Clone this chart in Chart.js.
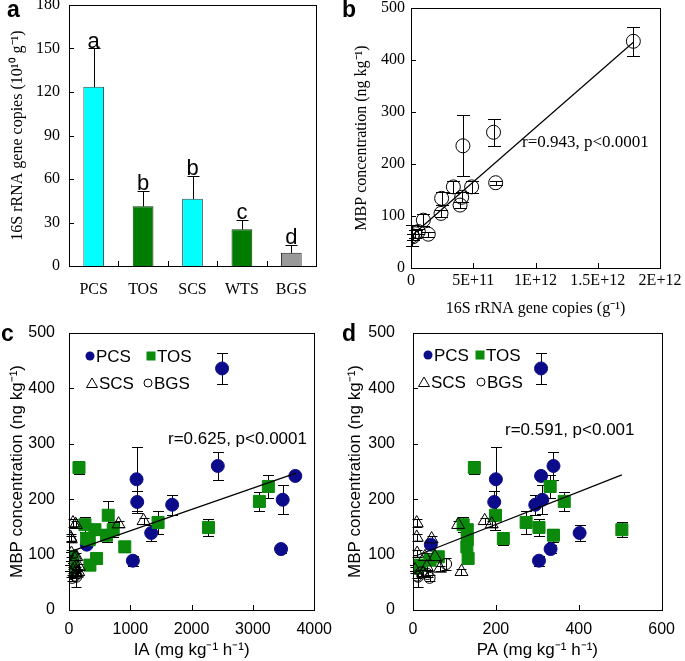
<!DOCTYPE html>
<html>
<head>
<meta charset="utf-8">
<script src="https://cdn.jsdelivr.net/npm/chart.js@4.4.0/dist/chart.umd.min.js"></script>
<style>
body { margin: 0; background: #fff; }
#wrap { position: relative; width: 685px; height: 661px; overflow: hidden; background: #fff; }
canvas { position: absolute; }
</style>
</head>
<body>
<div id="wrap">
  <canvas id="ca" width="342" height="345" style="left:0;top:-15px"></canvas>
  <canvas id="cb" width="343" height="345" style="left:342px;top:-15px"></canvas>
  <canvas id="cc" width="342" height="358" style="left:0;top:303px"></canvas>
  <canvas id="cd" width="343" height="358" style="left:342px;top:303px"></canvas>
</div>
<script>
// ---- panel a: 16S rRNA gene copies per site
const sites = ['PCS', 'TOS', 'SCS', 'WTS', 'BGS'];
const copies = [123.6, 41.2, 46.3, 25.3, 9.2];
const copiesErr = [26.4, 10.8, 16.1, 6.7, 5.1];
const groups = ['a', 'b', 'b', 'c', 'd'];

// ---- panel b: MBP vs gene copies
const geneX = [17.86e11, 6.63e11, 4.17e11, 6.80e11, 4.87e11, 3.40e11, 4.07e11, 3.94e11,
               2.46e11, 2.41e11, 0.99e11, 1.39e11, 0.59e11, 0.32e11, 0.08e11, 0.15e11];
const geneMBP = [436, 261, 235, 164, 156, 156, 136, 121, 134, 105, 92, 65, 70, 66, 62, 60];
const geneErr = [28, 26, 59, 4, 12, 11, 10, 6, 12, 7, 11, 5, 5, 8, 20, 6];
const bLineX = [0.05e11, 17.86e11];
const bLineY = [62, 434];
const bTickLabels = ['0', '5E+11', '1E+12', '1.5E+12', '2E+12'];

// ---- panels c, d: MBP vs IA / PA per site group
const pcsMBP = [436, 260, 242, 236, 195, 190, 199, 139, 110, 89, 118];
const pcsErr = [28, 26, 5, 58, 20, 18, 26, 14, 8, 9, 5];
const pcsIA = [2497, 2427, 3692, 1102, 1113, 1683, 3486, 1341, 3459, 1042, 290];
const pcsPA = [309, 339, 309, 200, 196, 295, 312, 402, 332, 304, 43];

const tosMBP = [257, 223, 196, 171, 158, 149, 135, 145, 129, 154, 145, 127, 114, 93, 96, 90, 81, 76];
const tosErr = [12, 20, 17, 26, 20, 15, 12, 13, 12, 14, 10, 10, 10, 8, 8, 6, 6, 6];
const tosIA = [163, 3252, 3106, 640, 1453, 2275, 613, 721, 288, 260, 423, 330, 910, 450, 40, 60, 341, 16];
const tosPA = [148, 331, 365, 199, 273, 304, 339, 504, 218, 121, 131, 131, 130, 133, 61, 41, 17, 5];

const scsMBP = [157, 154, 131, 128, 155, 161, 69, 102, 96, 96, 75, 78, 72, 66];
const scsErr = [8, 6, 6, 6, 6, 5, 5, 6, 6, 6, 5, 5, 5, 5];
const scsIA = [65, 110, 25, 30, 809, 1216, 150, 40, 100, 120, 90, 160, 60, 130];
const scsPA = [9, 109, 9, 45, 190, 173, 117, 10, 29, 53, 65, 33, 5, 25];

const bgsMBP = [83, 68, 65, 62, 60, 58];
const bgsErr = [10, 6, 6, 5, 18, 5];
const bgsIA = [80, 60, 30, 100, 120, 50];
const bgsPA = [80, 20, 35, 10, 12, 40];

const cLineX = [11, 3703];
const cLineY = [105, 247];
const dLineX = [8, 504];
const dLineY = [98, 244];

const SERIF = "'Liberation Serif', 'Times New Roman', serif";
const SANS = "'Liberation Sans', Arial, sans-serif";
const NAVY = '#0c0c8a';
const GREEN = '#0b8a0b';

function pts(xs, ys) { return xs.map((x, i) => ({x: x, y: ys[i]})); }

// box around the plot plus inward tick marks
const frame = {
  id: 'frame',
  afterDatasetsDraw(chart, args, opts) {
    const ctx = chart.ctx, a = chart.chartArea;
    const xs = chart.scales.x, ys = chart.scales.y;
    ctx.save();
    ctx.strokeStyle = '#000';
    ctx.lineWidth = 1;
    ctx.strokeRect(Math.round(a.left) + 0.5, Math.round(a.top) + 0.5,
                   Math.round(a.right - a.left), Math.round(a.bottom - a.top));
    ctx.beginPath();
    const xv = opts.xTicks || xs.ticks.map(t => t.value);
    xv.forEach(v => {
      const px = Math.round(xs.getPixelForValue(v)) + 0.5;
      ctx.moveTo(px, a.bottom); ctx.lineTo(px, a.bottom - 5);
    });
    ys.ticks.forEach(t => {
      const py = Math.round(ys.getPixelForValue(t.value)) + 0.5;
      ctx.moveTo(a.left, py); ctx.lineTo(a.left + 5, py);
    });
    ctx.stroke();
    ctx.restore();
  }
};

const errorBars = {
  id: 'errorBars',
  beforeDatasetsDraw(chart) {
    const ctx = chart.ctx;
    chart.data.datasets.forEach((ds, i) => {
      if (!ds.err) return;
      const meta = chart.getDatasetMeta(i);
      const ys = chart.scales[meta.yAxisID];
      ctx.save();
      ctx.strokeStyle = '#000';
      ctx.lineWidth = 1;
      ctx.beginPath();
      meta.data.forEach((el, j) => {
        const raw = ds.data[j];
        const v = typeof raw === 'object' ? raw.y : raw;
        const e = ds.err[j];
        const x = Math.round(el.x) + 0.5;
        const w = ds.capW || 5;
        const top = Math.round(ys.getPixelForValue(v + e)) + 0.5;
        const bot = Math.round(ys.getPixelForValue(ds.upOnly ? v : v - e)) + 0.5;
        ctx.moveTo(x, top); ctx.lineTo(x, bot);
        ctx.moveTo(x - w, top); ctx.lineTo(x + w, top);
        if (!ds.upOnly) { ctx.moveTo(x - w, bot); ctx.lineTo(x + w, bot); }
      });
      ctx.stroke();
      ctx.restore();
    });
  }
};

function yAxis(o) {
  return {
    min: 0, max: o.max,
    ticks: {stepSize: o.step, color: '#000', font: {family: o.font, size: 16}, padding: o.tickPad},
    grid: {display: false, drawTicks: false},
    border: {display: false},
    title: {display: true, text: o.title, color: '#000',
            font: {family: o.font, size: o.titleSize || 16}, padding: {top: o.titlePad, bottom: 0}},
    afterFit(s) { s.width = o.width; }
  };
}

function xAxis(o) {
  const ax = {
    ticks: {color: '#000', font: {family: o.font, size: 16}, padding: o.tickPad, maxRotation: 0, autoSkip: false},
    grid: {display: false, drawTicks: false},
    border: {display: false},
    afterFit(s) { s.height = o.height; }
  };
  if (o.title) {
    ax.title = {display: true, text: o.title, color: '#000',
                font: {family: o.font, size: o.titleSize || 16}, padding: {top: 0, bottom: o.titlePad}};
  }
  return ax;
}

const baseOpts = {
  responsive: false,
  animation: false,
  events: [],
  plugins: {legend: {display: false}, tooltip: {enabled: false}}
};

function panelLetter(ctx, t, x, y) {
  ctx.save();
  ctx.fillStyle = '#000';
  ctx.font = "bold 23px " + SANS;
  ctx.textBaseline = 'alphabetic';
  ctx.fillText(t, x, y);
  ctx.restore();
}

// ---------- a
new Chart(document.getElementById('ca'), {
  type: 'bar',
  data: {
    labels: sites,
    datasets: [{
      data: copies,
      err: copiesErr,
      upOnly: true,
      capW: 6,
      backgroundColor: ['#00ffff', '#007d00', '#00ffff', '#007d00', '#999999'],
      borderColor: ['#2b4d4d', '#123312', '#2b4d4d', '#123312', '#222222'],
      borderWidth: 1,
      borderSkipped: 'start',
      barPercentage: 0.42,
      categoryPercentage: 1.0
    }]
  },
  options: Object.assign({}, baseOpts, {
    layout: {padding: {top: 20, right: 26, left: 0, bottom: 0}},
    scales: {
      x: Object.assign(xAxis({font: SERIF, tickPad: 14, height: 64}), {offset: true}),
      y: yAxis({max: 180, step: 30, font: SERIF, tickPad: 9, width: 69, titlePad: 8,
                title: '16S rRNA gene copies (10\u00b9\u2070 g\u207b\u00b9)'})
    },
    plugins: Object.assign({}, baseOpts.plugins, {frame: {xTicks: [0.5, 1.5, 2.5, 3.5]}})
  }),
  plugins: [errorBars, frame, {
    id: 'notesA',
    afterDraw(chart) {
      const ctx = chart.ctx;
      const meta = chart.getDatasetMeta(0);
      const ys = chart.scales.y;
      ctx.save();
      ctx.fillStyle = '#000';
      ctx.font = "22px " + SANS;
      ctx.textAlign = 'center';
      ctx.textBaseline = 'alphabetic';
      meta.data.forEach((el, i) => {
        ctx.fillText(groups[i], el.x, ys.getPixelForValue(copies[i] + copiesErr[i]) - 1);
      });
      ctx.restore();
      panelLetter(ctx, 'a', 7, 32);
    }
  }]
});

// ---------- b
new Chart(document.getElementById('cb'), {
  type: 'scatter',
  data: {
    datasets: [
      {data: pts(bLineX, bLineY), showLine: true, pointRadius: 0, borderColor: '#000', borderWidth: 1.2, order: 0},
      {data: pts(geneX, geneMBP), err: geneErr, capW: 6.5, pointStyle: 'circle', pointRadius: 7,
       backgroundColor: 'rgba(0,0,0,0)', borderColor: '#000', borderWidth: 1, order: 1}
    ]
  },
  options: Object.assign({}, baseOpts, {
    layout: {padding: {top: 23, right: 25, left: 0, bottom: 0}},
    scales: {
      x: Object.assign(xAxis({font: SERIF, tickPad: 3, height: 62, titlePad: 12,
                              title: '16S rRNA gene copies (g\u207b\u00b9)'}),
                       {type: 'linear', min: 0, max: 2e12}),
      y: yAxis({max: 500, step: 100, font: SERIF, tickPad: 6, width: 69, titlePad: 10,
                title: 'MBP concentration (ng kg\u207b\u00b9)'})
    }
  }),
  plugins: [errorBars, frame, {
    id: 'notesB',
    beforeInit(chart) {
      chart.options.scales.x.ticks.stepSize = 5e11;
      chart.options.scales.x.ticks.callback = (v, i) => bTickLabels[i];
    },
    afterDraw(chart) {
      const ctx = chart.ctx;
      ctx.save();
      ctx.fillStyle = '#000';
      ctx.font = "17px " + SERIF;
      ctx.textBaseline = 'middle';
      ctx.fillText('r=0.943, p<0.0001', 180, 158);
      ctx.restore();
      panelLetter(ctx, 'b', 0, 32);
    }
  }]
});

// ---------- c, d
function groupSets(xPcs, xTos, xScs, xBgs, lx, ly) {
  return [
    {data: pts(lx, ly), showLine: true, pointRadius: 0, borderColor: '#000', borderWidth: 1.2, order: 0},
    {data: pts(xScs, scsMBP), err: scsErr, capW: 5, pointStyle: 'triangle', pointRadius: 7.5,
     backgroundColor: 'rgba(0,0,0,0)', borderColor: '#000', borderWidth: 1, order: 1},
    {data: pts(xBgs, bgsMBP), err: bgsErr, capW: 5, pointStyle: 'circle', pointRadius: 5.5,
     backgroundColor: 'rgba(0,0,0,0)', borderColor: '#000', borderWidth: 1, order: 2},
    {data: pts(xTos, tosMBP), err: tosErr, capW: 5.5, pointStyle: 'rect', pointRadius: 8.5,
     backgroundColor: GREEN, borderColor: GREEN, borderWidth: 1, order: 3},
    {data: pts(xPcs, pcsMBP), err: pcsErr, capW: 5.5, pointStyle: 'circle', pointRadius: 6.5,
     backgroundColor: NAVY, borderColor: NAVY, borderWidth: 1, order: 4}
  ];
}

// legend drawn inside the plot: p = marker/text x positions, y0 = first row centre
function drawLegend(ctx, p, y0) {
  ctx.save();
  ctx.font = "17px " + SANS;
  ctx.textBaseline = 'alphabetic';
  ctx.fillStyle = NAVY;
  ctx.beginPath(); ctx.arc(p.pcs, y0, 4.5, 0, Math.PI * 2); ctx.fill();
  ctx.fillStyle = GREEN;
  ctx.fillRect(p.tos - 4.5, y0 - 4.5, 9, 9);
  ctx.strokeStyle = '#000';
  ctx.lineWidth = 1;
  const ty = y0 + 27;
  ctx.beginPath();
  ctx.moveTo(p.scs - 5.5, ty + 4.5); ctx.lineTo(p.scs, ty - 5); ctx.lineTo(p.scs + 5.5, ty + 4.5); ctx.closePath();
  ctx.stroke();
  ctx.beginPath(); ctx.arc(p.bgs, ty, 4, 0, Math.PI * 2); ctx.stroke();
  ctx.fillStyle = '#000';
  ctx.fillText('PCS', p.pcs + 6, y0 + 6);
  ctx.fillText('TOS', p.tos + 6, y0 + 6);
  ctx.fillText('SCS', p.scs + 7, ty + 6);
  ctx.fillText('BGS', p.bgs + 6, ty + 6);
  ctx.restore();
}

function plainTicks(v) { return String(v); }

new Chart(document.getElementById('cc'), {
  type: 'scatter',
  data: {datasets: groupSets(pcsIA, tosIA, scsIA, bgsIA, cLineX, cLineY)},
  options: Object.assign({}, baseOpts, {
    layout: {padding: {top: 30, right: 27, left: 0, bottom: 0}},
    scales: {
      x: Object.assign(xAxis({font: SANS, tickPad: 10, height: 51, titlePad: 0,
                              title: 'IA (mg kg\u207b\u00b9 h\u207b\u00b9)', titleSize: 17}),
                       {type: 'linear', min: 0, max: 4000}),
      y: yAxis({max: 500, step: 100, font: SANS, tickPad: 14, width: 69, titlePad: 7, titleSize: 17,
                title: 'MBP concentration (ng kg\u207b\u00b9)'})
    }
  }),
  plugins: [errorBars, frame, {
    id: 'notesC',
    beforeInit(chart) {
      chart.options.scales.x.ticks.stepSize = 1000;
      chart.options.scales.x.ticks.callback = plainTicks;
    },
    afterDraw(chart) {
      const ctx = chart.ctx;
      drawLegend(ctx, {pcs: 90, tos: 151, scs: 92, bgs: 148}, 53);
      ctx.save();
      ctx.fillStyle = '#000';
      ctx.font = "17px " + SANS;
      ctx.textBaseline = 'middle';
      ctx.fillText('r=0.625, p<0.0001', 168, 136);
      ctx.restore();
      panelLetter(ctx, 'c', 1, 38);
    }
  }]
});

new Chart(document.getElementById('cd'), {
  type: 'scatter',
  data: {datasets: groupSets(pcsPA, tosPA, scsPA, bgsPA, dLineX, dLineY)},
  options: Object.assign({}, baseOpts, {
    layout: {padding: {top: 30, right: 23, left: 0, bottom: 0}},
    scales: {
      x: Object.assign(xAxis({font: SANS, tickPad: 10, height: 51, titlePad: 0,
                              title: 'PA (mg kg\u207b\u00b9 h\u207b\u00b9)', titleSize: 17}),
                       {type: 'linear', min: 0, max: 600}),
      y: yAxis({max: 500, step: 100, font: SANS, tickPad: 18, width: 71, titlePad: 3, titleSize: 17,
                title: 'MBP concentration (ng kg\u207b\u00b9)'})
    }
  }),
  plugins: [errorBars, frame, {
    id: 'notesD',
    beforeInit(chart) {
      chart.options.scales.x.ticks.stepSize = 200;
      chart.options.scales.x.ticks.callback = plainTicks;
    },
    afterDraw(chart) {
      const ctx = chart.ctx;
      drawLegend(ctx, {pcs: 86, tos: 138, scs: 82, bgs: 139}, 52);
      ctx.save();
      ctx.fillStyle = '#000';
      ctx.font = "17px " + SANS;
      ctx.textBaseline = 'middle';
      ctx.fillText('r=0.591, p<0.001', 163, 127);
      ctx.restore();
      panelLetter(ctx, 'd', 0, 38);
    }
  }]
});
</script>
</body>
</html>
